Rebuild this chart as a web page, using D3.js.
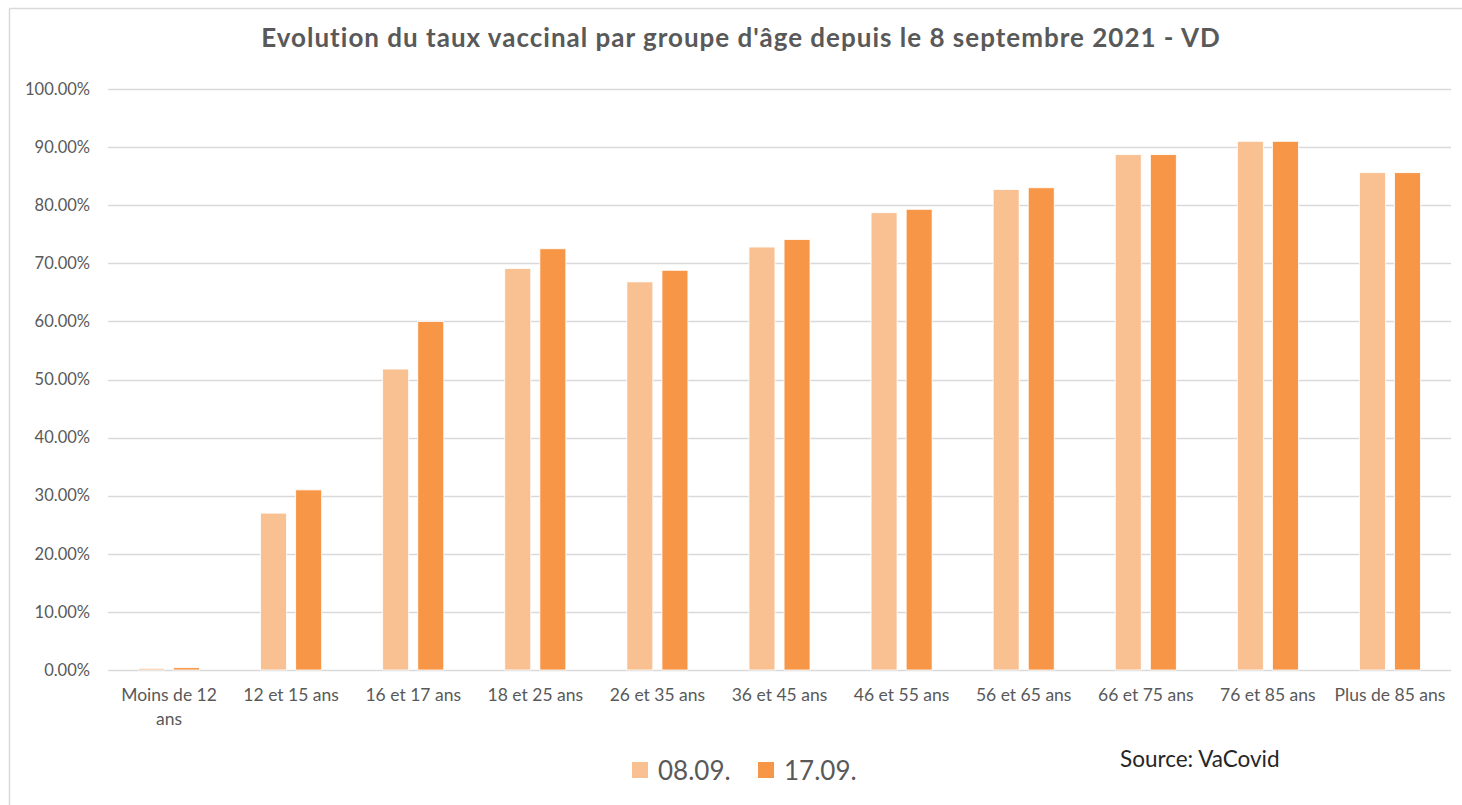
<!DOCTYPE html>
<html>
<head>
<meta charset="utf-8">
<script src="https://cdn.jsdelivr.net/npm/d3@7"></script>
<style>
  body { margin: 0; background: #fff; }
  text { font-family: Lato, "Open Sans", sans-serif; }
</style>
</head>
<body>
<div id="chart"></div>
<script>
// age groups (x axis)
const categories = ["Moins de 12 ans", "12 et 15 ans", "16 et 17 ans", "18 et 25 ans", "26 et 35 ans",
  "36 et 45 ans", "46 et 55 ans", "56 et 65 ans", "66 et 75 ans", "76 et 85 ans", "Plus de 85 ans"];
const seriesNames = ["08.09.", "17.09."];
// vaccination rate in %
const values0809 = [0.3, 27.0, 51.8, 69.1, 66.8, 72.8, 78.7, 82.7, 88.7, 91.0, 85.6];
const values1709 = [0.4, 31.0, 60.0, 72.5, 68.8, 74.1, 79.3, 83.0, 88.7, 91.0, 85.6];
const yTicks = [0, 10, 20, 30, 40, 50, 60, 70, 80, 90, 100];
const colors = ["#F9C091", "#F79646"];

const width = 1462;
const height = 805;
const margin = { top: 89, right: 11, bottom: 135, left: 108 };

const svg = d3.select("#chart").append("svg")
  .attr("width", width)
  .attr("height", height);

// chart frame (only top & left visible in the original)
svg.append("line").attr("x1", 9.5).attr("x2", width).attr("y1", 8.5).attr("y2", 8.5)
  .attr("stroke", "#d9d9d9").attr("stroke-width", 1.5);
svg.append("line").attr("x1", 9.5).attr("x2", 9.5).attr("y1", 8.5).attr("y2", height)
  .attr("stroke", "#d9d9d9").attr("stroke-width", 1.5);

// title
svg.append("text")
  .attr("x", 741).attr("y", 47)
  .attr("text-anchor", "middle")
  .attr("font-size", 26).attr("font-weight", "bold")
  .attr("letter-spacing", 1)
  .attr("fill", "#595959")
  .text("Evolution du taux vaccinal par groupe d'âge depuis le 8 septembre 2021 - VD");

const x0 = d3.scaleBand()
  .domain(categories)
  .range([margin.left, width - margin.right])
  .paddingInner(0.5)
  .paddingOuter(0.25);

const x1 = d3.scaleBand()
  .domain(seriesNames)
  .range([0, x0.bandwidth()])
  .paddingInner(0.26);

const y = d3.scaleLinear()
  .domain([0, 100])
  .range([height - margin.bottom, margin.top]);

// gridlines
svg.append("g").selectAll("line")
  .data(yTicks)
  .join("line")
  .attr("x1", margin.left).attr("x2", width - margin.right)
  .attr("y1", d => Math.round(y(d)) + 0.5).attr("y2", d => Math.round(y(d)) + 0.5)
  .attr("stroke", "#d9d9d9").attr("stroke-width", 1.3);

// y labels
svg.append("g").selectAll("text")
  .data(yTicks)
  .join("text")
  .attr("x", 90).attr("y", d => y(d))
  .attr("dy", "0.35em")
  .attr("text-anchor", "end")
  .attr("font-size", 16.5)
  .attr("fill", "#595959")
  .text(d => d.toFixed(2) + "%");

// bars
const table = categories.map((c, i) => ({ cat: c, vals: [values0809[i], values1709[i]] }));

svg.append("g").selectAll("g")
  .data(table)
  .join("g")
  .attr("transform", d => `translate(${x0(d.cat)},0)`)
  .selectAll("rect")
  .data(d => d.vals.map((v, k) => ({ name: seriesNames[k], v: v, k: k })))
  .join("rect")
  .attr("x", d => x1(d.name))
  .attr("width", x1.bandwidth())
  .attr("y", d => y(d.v))
  .attr("height", d => y(0) - y(d.v))
  .attr("fill", d => colors[d.k])
  .attr("stroke", "#fff")
  .attr("stroke-width", 0.8);

// x labels (first one wraps on two lines)
const xl = svg.append("g").selectAll("text")
  .data(categories)
  .join("text")
  .attr("x", d => x0(d) + x0.bandwidth() / 2)
  .attr("y", 701)
  .attr("text-anchor", "middle")
  .attr("font-size", 17.5)
  .attr("fill", "#595959");
xl.each(function(d) {
  const t = d3.select(this);
  if (d === "Moins de 12 ans") {
    t.append("tspan").attr("x", x0(d) + x0.bandwidth() / 2).text("Moins de 12");
    t.append("tspan").attr("x", x0(d) + x0.bandwidth() / 2).attr("dy", 24).text("ans");
  } else {
    t.text(d);
  }
});

// legend
const legend = svg.append("g");
const legendX = [632, 758];
seriesNames.forEach((s, k) => {
  legend.append("rect")
    .attr("x", legendX[k]).attr("y", 762)
    .attr("width", 16).attr("height", 16)
    .attr("fill", colors[k]);
  legend.append("text")
    .attr("x", legendX[k] + 26).attr("y", 780)
    .attr("font-size", 26)
    .attr("fill", "#595959")
    .text(s);
});

// source note
svg.append("text")
  .attr("x", 1120).attr("y", 767)
  .attr("font-size", 22.5)
  .attr("fill", "#262626")
  .text("Source: VaCovid");
</script>
</body>
</html>
